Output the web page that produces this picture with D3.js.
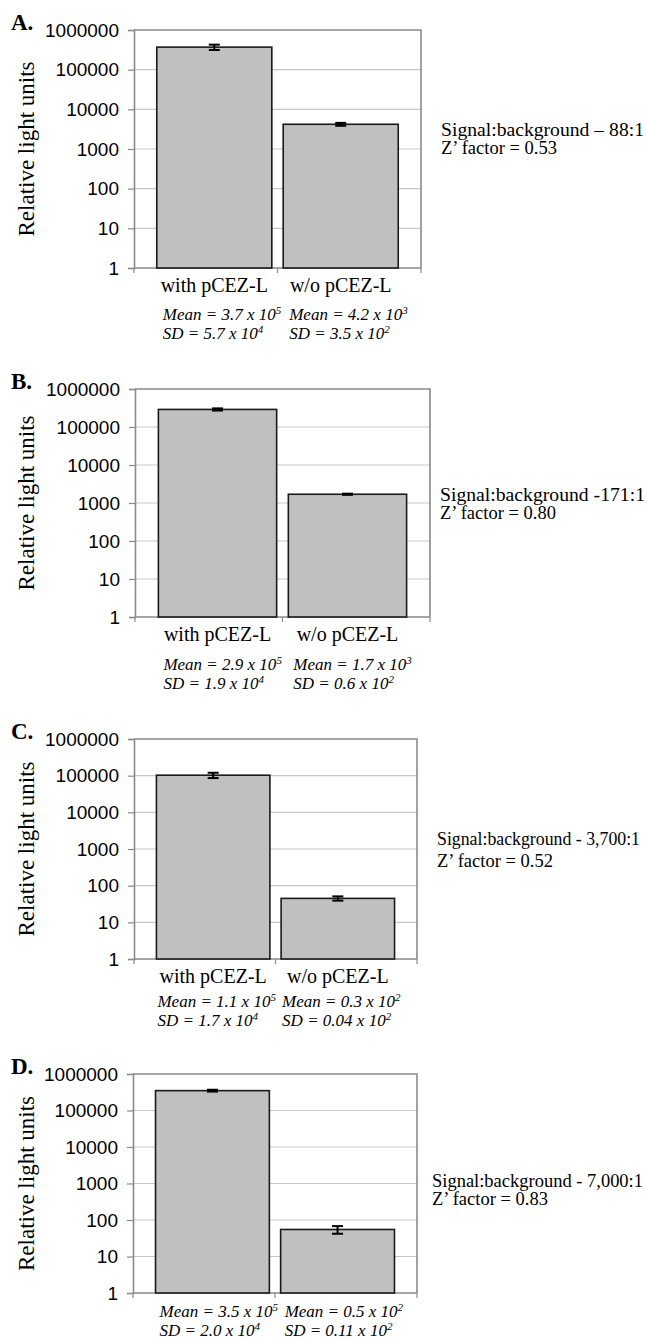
<!DOCTYPE html>
<html>
<head>
<meta charset="utf-8">
<script src="https://cdn.jsdelivr.net/npm/d3@7"></script>
<style>
  body { margin: 0; background: #fff; }
  svg { display: block; }
</style>
</head>
<body>
<div id="chart"></div>
<script>
// values
const panelLetters = ["A.", "B.", "C.", "D."]
const categories = ["with pCEZ-L", "w/o pCEZ-L"]
const showCategories = [true, true, true, false]
const yTicks = [1, 10, 100, 1000, 10000, 100000, 1000000]

const barMeans = [[370000, 4200], [290000, 1700], [103000, 45], [350000, 55]]
const barSDs = [[57000, 350], [19000, 60], [17000, 6], [20000, 13]]

// [coefficient, exponent] for the italic notes under each bar
const meanLabels = [
    [["3.7", "5"], ["4.2", "3"]],
    [["2.9", "5"], ["1.7", "3"]],
    [["1.1", "5"], ["0.3", "2"]],
    [["3.5", "5"], ["0.5", "2"]]
]
const sdLabels = [
    [["5.7", "4"], ["3.5", "2"]],
    [["1.9", "4"], ["0.6", "2"]],
    [["1.7", "4"], ["0.04", "2"]],
    [["2.0", "4"], ["0.11", "2"]]
]
const ratioLabels = ["Signal:background – 88:1", "Signal:background -171:1",
    "Signal:background - 3,700:1", "Signal:background - 7,000:1"]
const zLabels = ["Z’ factor = 0.53", "Z’ factor = 0.80", "Z’ factor = 0.52", "Z’ factor = 0.83"]

// layout of each panel (pixels)
const frames = [
    {top: 30, bottom: 268, left: 134, right: 421, noteX: 6, meanY: 52, sdY: 71, annX: 441, annY: 136, annGap: 18, annW: 203},
    {top: 389, bottom: 617, left: 135, right: 430, noteX: 5, meanY: 53, sdY: 72, annX: 440, annY: 501, annGap: 18, annW: 205},
    {top: 739, bottom: 959, left: 134, right: 417, noteX: 1, meanY: 48, sdY: 67, annX: 437, annY: 845, annGap: 22, annW: 203},
    {top: 1074, bottom: 1293, left: 133, right: 417, noteX: 4, meanY: 24, sdY: 43, annX: 432, annY: 1187, annGap: 18, annW: 211}
]

const serif = "'Liberation Serif', 'Times New Roman', serif"
const sans = "'Liberation Sans', Arial, sans-serif"

const svg = d3.select("#chart").append("svg")
    .attr("width", 647).attr("height", 1340)
    .attr("viewBox", [0, 0, 647, 1340])

function noteText(g, x, y, prefix, parts){
    const t = g.append("text")
        .attr("x", x).attr("y", y)
        .attr("font-family", serif).attr("font-style", "italic")
        .attr("font-size", 17).attr("fill", "#000")
    t.append("tspan").text(`${prefix} = ${parts[0]} x 10`)
    t.append("tspan").attr("dy", -6).attr("font-size", 11).text(parts[1])
}

frames.forEach((f, i) => {
    const g = svg.append("g")

    const y = d3.scaleLog().domain([1, 1000000]).range([f.bottom, f.top])
    const x = d3.scaleBand().domain(categories)
        .range([f.left, f.right]).paddingInner(0.09).paddingOuter(0.18)

    // gridlines
    g.selectAll(".grid").data(yTicks.slice(1, -1)).join("line")
        .attr("x1", f.left).attr("x2", f.right)
        .attr("y1", d => y(d)).attr("y2", d => y(d))
        .attr("stroke", "#c8c8c8").attr("stroke-width", 1.2)

    // frame top / right
    g.append("path")
        .attr("d", `M${f.left},${f.top}H${f.right}V${f.bottom}`)
        .attr("fill", "none").attr("stroke", "#8a8a8a").attr("stroke-width", 1.6)

    // y axis
    const yAxis = g.append("g").attr("transform", `translate(${f.left},0)`)
        .call(d3.axisLeft(y).tickValues(yTicks).tickFormat(d3.format("d"))
            .tickSize(6).tickPadding(9))
    yAxis.select(".domain").attr("stroke", "#8a8a8a").attr("stroke-width", 1.6)
    yAxis.selectAll(".tick line").attr("stroke", "#8a8a8a").attr("stroke-width", 1.2)
    yAxis.selectAll(".tick text").attr("font-family", sans).attr("font-size", 19).attr("fill", "#000")

    // x axis line with category ticks
    g.append("line")
        .attr("x1", f.left).attr("x2", f.right)
        .attr("y1", f.bottom).attr("y2", f.bottom)
        .attr("stroke", "#8a8a8a").attr("stroke-width", 1.6)
    g.selectAll(".xtick").data([f.left, (f.left + f.right) / 2, f.right]).join("line")
        .attr("x1", d => d).attr("x2", d => d)
        .attr("y1", f.bottom).attr("y2", f.bottom + 5)
        .attr("stroke", "#8a8a8a").attr("stroke-width", 1.2)

    // bars
    const rows = categories.map((c, j) => ({cat: c, mean: barMeans[i][j], sd: barSDs[i][j]}))
    g.selectAll(".bar").data(rows).join("rect")
        .attr("x", d => x(d.cat))
        .attr("y", d => y(d.mean))
        .attr("width", x.bandwidth())
        .attr("height", d => f.bottom - y(d.mean))
        .attr("fill", "#c0c0c0").attr("stroke", "#1a1a1a").attr("stroke-width", 1.6)

    // error bars
    rows.forEach(d => {
        const cx = x(d.cat) + x.bandwidth() / 2
        const hi = y(d.mean + d.sd), lo = y(d.mean - d.sd)
        g.append("line").attr("x1", cx).attr("x2", cx).attr("y1", hi).attr("y2", lo)
            .attr("stroke", "#000").attr("stroke-width", 2)
        ;[hi, lo].forEach(v => g.append("line")
            .attr("x1", cx - 5.5).attr("x2", cx + 5.5).attr("y1", v).attr("y2", v)
            .attr("stroke", "#000").attr("stroke-width", 2))
    })

    // category labels
    if(showCategories[i]){
        g.selectAll(".cat").data(categories).join("text")
            .attr("x", d => x(d) + x.bandwidth() / 2)
            .attr("y", f.bottom + 24)
            .attr("text-anchor", "middle")
            .attr("font-family", serif).attr("font-size", 20).attr("fill", "#000")
            .text(d => d)
    }

    // mean / SD notes
    categories.forEach((c, j) => {
        noteText(g, x(c) + f.noteX, f.bottom + f.meanY, "Mean", meanLabels[i][j])
        noteText(g, x(c) + f.noteX, f.bottom + f.sdY, "SD", sdLabels[i][j])
    })

    // y axis title
    g.append("text")
        .attr("transform", `translate(34,${(f.top + f.bottom) / 2}) rotate(-90)`)
        .attr("text-anchor", "middle")
        .attr("font-family", serif).attr("font-size", 23).attr("fill", "#000")
        .text("Relative light units")

    // panel letter
    g.append("text")
        .attr("x", 11).attr("y", f.top)
        .attr("font-family", serif).attr("font-weight", "bold")
        .attr("font-size", 23).attr("fill", "#000")
        .text(panelLetters[i])

    // signal:background and Z'
    g.append("text").attr("x", f.annX).attr("y", f.annY)
        .attr("font-family", serif).attr("font-size", 18.5).attr("fill", "#000")
        .attr("textLength", f.annW).attr("lengthAdjust", "spacingAndGlyphs")
        .text(ratioLabels[i])
    g.append("text").attr("x", f.annX).attr("y", f.annY + f.annGap)
        .attr("font-family", serif).attr("font-size", 18.5).attr("fill", "#000")
        .text(zLabels[i])
})
</script>
</body>
</html>
